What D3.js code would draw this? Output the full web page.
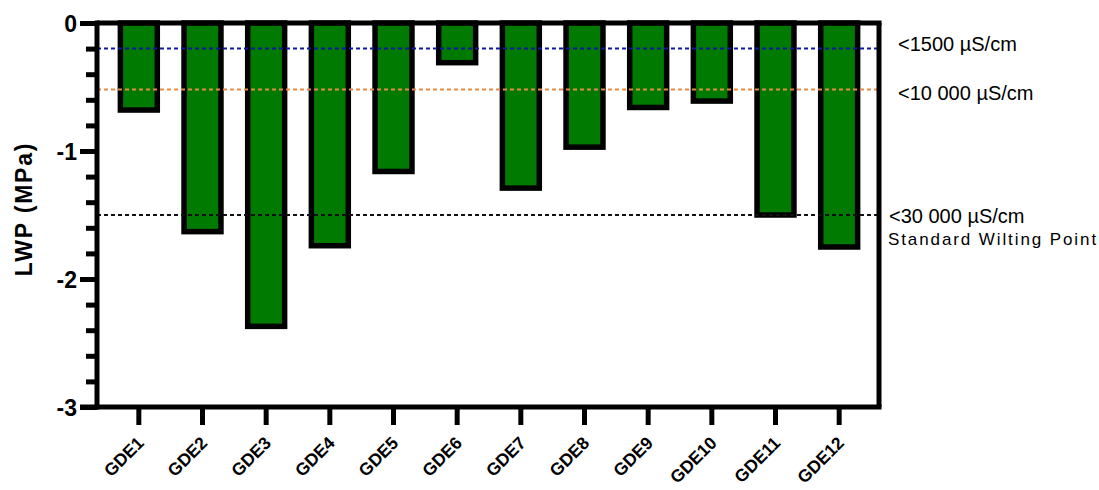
<!DOCTYPE html>
<html>
<head>
<meta charset="utf-8">
<script src="https://cdn.jsdelivr.net/npm/d3@7"></script>
<style>
  body { margin: 0; background: #fff; }
  text { font-family: "Liberation Sans", Arial, sans-serif; }
</style>
</head>
<body>
<div id="chart"></div>
<script>
// data
var sites = ["GDE1", "GDE2", "GDE3", "GDE4", "GDE5", "GDE6", "GDE7", "GDE8", "GDE9", "GDE10", "GDE11", "GDE12"];
var lwp = [-0.68, -1.63, -2.37, -1.74, -1.16, -0.31, -1.29, -0.97, -0.66, -0.61, -1.5, -1.75];
var yTicks = [0, -1, -2, -3];
var refValues = [-0.2, -0.52, -1.5];
var refColors = ["#1018a0", "#e38c45", "#111"];
var refLabels = ["<1500 µS/cm", "<10 000 µS/cm", "<30 000 µS/cm"];

var width = 1099, height = 490;
var plotLeft = 97, plotRight = 879, plotTop = 23, plotBottom = 407;

var svg = d3.select("#chart").append("svg")
    .attr("width", width)
    .attr("height", height);

var x = d3.scaleBand()
    .domain(sites)
    .range([plotLeft + 10, plotRight - 8])
    .paddingInner(0.42)
    .paddingOuter(0.21);

var y = d3.scaleLinear()
    .domain([0, -3])
    .range([plotTop, plotBottom]);

// bars hang from zero
svg.selectAll("rect.bar")
    .data(lwp)
    .enter()
    .append("rect")
    .attr("class", "bar")
    .attr("x", function(d, i) { return x(sites[i]); })
    .attr("y", y(0))
    .attr("width", x.bandwidth())
    .attr("height", function(d) { return y(d) - y(0); })
    .attr("fill", "#007a00")
    .attr("stroke", "#000")
    .attr("stroke-width", 5.5);

// reference lines
svg.selectAll("line.ref")
    .data(refValues)
    .enter()
    .append("line")
    .attr("class", "ref")
    .attr("x1", plotLeft)
    .attr("x2", plotRight)
    .attr("y1", function(d) { return y(d); })
    .attr("y2", function(d) { return y(d); })
    .attr("stroke", function(d, i) { return refColors[i]; })
    .attr("stroke-width", 2)
    .attr("stroke-dasharray", "4,3");

// frame: top and right
svg.append("line")
    .attr("x1", plotLeft).attr("x2", plotRight + 2.5)
    .attr("y1", y(0)).attr("y2", y(0))
    .attr("stroke", "#000").attr("stroke-width", 5);
svg.append("line")
    .attr("x1", plotRight).attr("x2", plotRight)
    .attr("y1", y(0)).attr("y2", plotBottom)
    .attr("stroke", "#000").attr("stroke-width", 5);

// y axis
var yAxis = d3.axisLeft(y)
    .tickValues(d3.range(0, -3.01, -0.2).map(function(v) { return +v.toFixed(1); }))
    .tickSize(11)
    .tickFormat(function(d) { return yTicks.indexOf(d) >= 0 ? d3.format("d")(d).replace("−", "-") : ""; });

var gy = svg.append("g")
    .attr("transform", "translate(" + plotLeft + ",0)")
    .call(yAxis);
gy.select(".domain")
    .attr("stroke-width", 5)
    .attr("d", "M0," + (plotTop - 2.5) + "V" + (plotBottom + 2.5));
gy.selectAll(".tick line")
    .attr("stroke-width", 5)
    .attr("x2", function(d) { return yTicks.indexOf(d) >= 0 ? -17 : -11; });
gy.selectAll(".tick text")
    .attr("x", -20)
    .attr("dy", "0.35em")
    .attr("font-size", 23)
    .attr("font-weight", "bold")
    .attr("fill", "#000")
    .style("font-family", "'Liberation Sans', Arial, sans-serif");

// x axis
var xAxis = d3.axisBottom(x).tickSize(18).tickSizeOuter(0);
var gx = svg.append("g")
    .attr("transform", "translate(0," + plotBottom + ")")
    .call(xAxis);
gx.select(".domain")
    .attr("stroke-width", 5)
    .attr("d", "M" + (plotLeft - 17) + ",0H" + (plotRight + 2.5));
gx.selectAll(".tick line").attr("stroke-width", 5);
gx.selectAll(".tick text")
    .attr("font-size", 17.5)
    .attr("font-weight", "bold")
    .attr("fill", "#000")
    .attr("text-anchor", "end")
    .attr("dy", 0)
    .attr("y", 0)
    .attr("transform", "translate(6,37) rotate(-45)")
    .style("font-family", "'Liberation Sans', Arial, sans-serif");

// y title
svg.append("text")
    .attr("transform", "translate(32,209) rotate(-90)")
    .attr("text-anchor", "middle")
    .attr("font-size", 23)
    .attr("font-weight", "bold")
    .attr("letter-spacing", 1.8)
    .text("LWP (MPa)");

// reference labels
var labelX = [898, 898, 889];
var labelDy = [2, 10.5, 8];
svg.selectAll("text.ref")
    .data(refValues)
    .enter()
    .append("text")
    .attr("class", "ref")
    .attr("x", function(d, i) { return labelX[i]; })
    .attr("y", function(d, i) { return y(d) + labelDy[i]; })
    .attr("font-size", 20)
    .attr("fill", "#000")
    .text(function(d, i) { return refLabels[i]; });

svg.append("text")
    .attr("x", 888)
    .attr("y", 245)
    .attr("font-size", 17)
    .attr("letter-spacing", 1.9)
    .text("Standard Wilting Point");
</script>
</body>
</html>
